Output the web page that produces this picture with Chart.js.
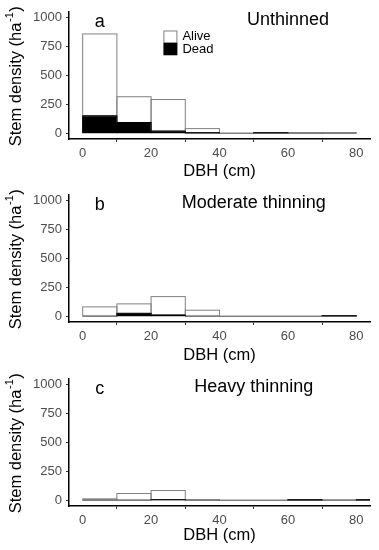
<!DOCTYPE html>
<html lang="en">
<head>
<meta charset="UTF-8" />
<title>Stem density by DBH class</title>
<style>
  * { margin: 0; padding: 0; box-sizing: border-box; }
  body { background: white; width: 379px; height: 550px; overflow: hidden; position: relative; }
  .panel { position: absolute; left: 0; width: 379px; }
  canvas { display: block; }
</style>
</head>
<body>
<div class="panel" style="top:0"><canvas id="chartA" width="379" height="183"></canvas></div>
<div class="panel" style="top:183px"><canvas id="chartB" width="379" height="184"></canvas></div>
<div class="panel" style="top:367px"><canvas id="chartC" width="379" height="183"></canvas></div>

<script src="https://cdn.jsdelivr.net/npm/chart.js"></script>
<script>
// DBH classes (cm), lower edge of each 10 cm bin
const binStarts = [0, 10, 20, 30, 40, 50, 60, 70, 80];
const binWidth = 10;
const xTicks = [0, 20, 40, 60, 80];
const yTicks = [0, 250, 500, 750, 1000];
const seriesNames = ['Alive', 'Dead'];
const panelLetters = ['a', 'b', 'c'];
const panelTitles = ['Unthinned', 'Moderate thinning', 'Heavy thinning'];

// stems per ha
const deadA  = [150, 93, 18, 3, 0, 3, 0, 0];
const aliveA = [710, 223, 274, 37, 0, 0, 6, 6];
const deadB  = [0, 25, 10, 0, 0, 0, 0, 3];
const aliveB = [81, 82, 160, 52, 0, 0, 0, 0];
const deadC  = [0, 0, 4, 0, 0, 0, 2, 0, 2];
const aliveC = [12, 58, 80, 6, 0, 0, 0, 2, 0];

const FONT = '"Liberation Sans", Arial, sans-serif';

function toPoints(values) {
  return values.map((v, i) => ({ x: binStarts[i] + binWidth / 2, y: v }));
}

// ggplot-like outlines: grey around alive bars, black around dead bars
const outlinePlugin = {
  id: 'outline',
  afterDatasetsDraw(chart) {
    const ctx = chart.ctx, a = chart.chartArea;
    ctx.save();
    ctx.beginPath();
    ctx.rect(a.left, a.top, a.right - a.left, a.bottom - a.top);
    ctx.clip();
    ctx.lineWidth = 1;
    [1, 0].forEach(di => {
      const ds = chart.data.datasets[di];
      chart.getDatasetMeta(di).data.forEach((bar, i) => {
        if (di === 0 && ds.data[i].y <= 0) return;
        const p = bar.getProps(['x', 'y', 'base', 'width'], true);
        ctx.strokeStyle = ds.outline;
        ctx.strokeRect(p.x - p.width / 2, Math.min(p.y, p.base), p.width, Math.abs(p.base - p.y));
      });
    });
    ctx.restore();
  }
};

// y title with superscript, panel letter, panel title, legend
const textPlugin = {
  id: 'texts',
  afterDraw(chart) {
    const ctx = chart.ctx, a = chart.chartArea;
    const o = chart.options.plugins.texts;
    const xs = chart.scales.x, ys = chart.scales.y;
    ctx.save();
    ctx.fillStyle = '#000';

    // y axis title
    ctx.save();
    ctx.translate(16.8, (a.top + a.bottom) / 2 + 1.3);
    ctx.rotate(-Math.PI / 2);
    ctx.textBaseline = 'middle';
    ctx.textAlign = 'left';
    const main = 'Stem density (ha', sup = '-1', close = ')';
    ctx.font = '16.5px ' + FONT;
    const w1 = ctx.measureText(main).width, w3 = ctx.measureText(close).width;
    ctx.font = '11px ' + FONT;
    const w2 = ctx.measureText(sup).width;
    let x = -(w1 + w2 + w3) / 2;
    ctx.font = '16.5px ' + FONT; ctx.fillText(main, x, 0); x += w1;
    ctx.font = '11px ' + FONT; ctx.fillText(sup, x + 0.5, -6.5); x += w2 + 1;
    ctx.font = '16.5px ' + FONT; ctx.fillText(close, x, 0);
    ctx.restore();

    // letter and title
    ctx.textBaseline = 'middle';
    ctx.textAlign = 'center';
    ctx.font = '18px ' + FONT;
    ctx.fillText(o.letter, xs.getPixelForValue(o.letterAt[0]), ys.getPixelForValue(o.letterAt[1]));
    ctx.fillText(o.title, xs.getPixelForValue(o.titleAt[0]), ys.getPixelForValue(o.titleAt[1]));

    // legend (only first panel)
    if (o.legendAt) {
      const lx = xs.getPixelForValue(o.legendAt[0]);
      const ly = ys.getPixelForValue(o.legendAt[1]);
      const bw = 14, bh = 12.4;
      ctx.fillStyle = '#fff';
      ctx.fillRect(lx, ly, bw, bh);
      ctx.strokeStyle = '#808080';
      ctx.lineWidth = 1;
      ctx.strokeRect(lx + 0.5, ly + 0.5, bw - 1, bh - 0.5);
      ctx.fillStyle = '#000';
      ctx.fillRect(lx, ly + bh, bw, bh);
      ctx.font = '13px ' + FONT;
      ctx.textAlign = 'left';
      ctx.fillText(seriesNames[0], lx + 19, ly + bh / 2);
      ctx.fillText(seriesNames[1], lx + 19, ly + bh * 1.5);
    }
    ctx.restore();
  }
};

function makePanel(id, dead, alive, idx, opts) {
  const canvas = document.getElementById(id);
  const H = canvas.height;
  return new Chart(canvas, {
    type: 'bar',
    data: {
      datasets: [
        { label: seriesNames[1], data: toPoints(dead), backgroundColor: '#000', outline: '#000', borderWidth: 0 },
        { label: seriesNames[0], data: toPoints(alive), backgroundColor: '#fff', outline: '#808080', borderWidth: 0 }
      ]
    },
    plugins: [outlinePlugin, textPlugin],
    options: {
      responsive: false,
      animation: false,
      layout: { padding: { top: 12, right: 9, left: 0, bottom: 0 } },
      datasets: { bar: { barPercentage: 1, categoryPercentage: 1 } },
      plugins: {
        legend: { display: false },
        tooltip: { enabled: false },
        texts: {
          letter: panelLetters[idx],
          title: panelTitles[idx],
          letterAt: [5, 965],
          titleAt: opts.titleAt,
          legendAt: opts.legendAt
        }
      },
      scales: {
        x: {
          type: 'linear',
          stacked: true,
          offset: false,
          min: -4,
          max: 84,
          afterBuildTicks: s => { s.ticks = xTicks.map(v => ({ value: v })); },
          afterFit: s => { s.height = H - 139; },
          grid: { drawOnChartArea: false, drawTicks: true, tickLength: 3, color: '#333' },
          border: { color: '#000', width: 1.5 },
          ticks: { color: '#4d4d4d', font: { family: FONT, size: 13 }, padding: 4, maxRotation: 0,
                   callback: v => String(v) },
          title: {
            display: true,
            text: 'DBH (cm)',
            color: '#000',
            font: { family: FONT, size: 16.5 },
            padding: { top: 0, bottom: opts.xTitlePad }
          }
        },
        y: {
          stacked: true,
          min: -50,
          max: 1050,
          afterBuildTicks: s => { s.ticks = yTicks.map(v => ({ value: v })); },
          afterFit: s => { s.width = 69; },
          grid: { drawOnChartArea: false, drawTicks: true, tickLength: 3, color: '#333' },
          border: { color: '#000', width: 1.5 },
          ticks: { color: '#4d4d4d', font: { family: FONT, size: 13 }, padding: 4,
                   callback: v => String(v) }
        }
      }
    }
  });
}

makePanel('chartA', deadA, aliveA, 0, { titleAt: [60, 978], legendAt: [23.6, 890], xTitlePad: 1.6 });
makePanel('chartB', deadB, aliveB, 1, { titleAt: [50, 978], xTitlePad: 2.1 });
makePanel('chartC', deadC, aliveC, 2, { titleAt: [50, 980], xTitlePad: 4.4 });
</script>
</body>
</html>
